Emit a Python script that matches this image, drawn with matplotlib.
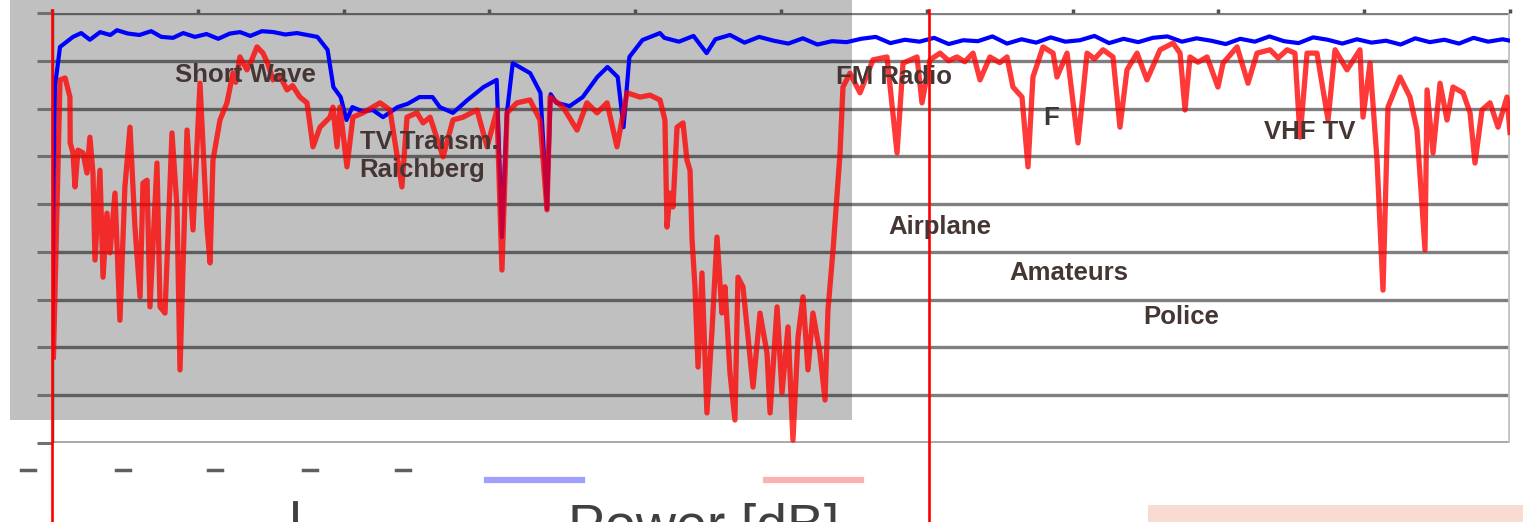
import matplotlib
matplotlib.use('Agg')
import matplotlib.pyplot as plt
from matplotlib.lines import Line2D
from matplotlib.patches import Rectangle

# x: position in sweep span (0..100 %), y: level in dB
blue_points = [
    (0.0, -72.0), (0.2, -15.5), (0.55, -7.1), (1.44, -5.0), (2.0, -4.2),
    (2.6, -5.6), (3.3, -4.0), (4.0, -4.6), (4.46, -3.6), (5.2, -4.3),
    (6.0, -4.6), (6.8, -3.8), (7.5, -5.0), (8.3, -5.2), (9.0, -4.2),
    (9.8, -5.0), (10.6, -4.4), (11.4, -5.4), (12.2, -4.3), (12.9, -4.0),
    (13.6, -4.8), (14.4, -3.8), (15.2, -4.0), (16.0, -4.5), (16.8, -4.2),
    (17.5, -4.6), (18.2, -5.0), (18.9, -7.7), (19.3, -15.5), (19.8, -17.6),
    (20.2, -22.4), (20.6, -19.7), (21.3, -20.6), (22.0, -20.3), (22.7, -21.8),
    (23.7, -19.7), (24.4, -19.0), (25.2, -17.6), (26.1, -17.6), (26.6, -19.7),
    (27.5, -20.9), (28.5, -18.2), (29.6, -15.5), (30.5, -14.0), (30.86, -46.9),
    (31.2, -20.9), (31.6, -10.5), (32.8, -12.6), (33.5, -16.7), (33.95, -41.0),
    (34.2, -17.0), (34.6, -18.8), (35.5, -19.5), (36.4, -17.6), (37.4, -13.4),
    (38.1, -11.3), (38.8, -13.4), (39.2, -23.9), (39.6, -9.2), (40.5, -5.65),
    (41.7, -4.2), (42.0, -5.2), (43.0, -6.0), (44.0, -4.8), (44.9, -8.4),
    (45.5, -5.5), (46.5, -4.6), (47.5, -6.2), (48.5, -5.0), (49.5, -5.8),
    (50.5, -6.4), (51.5, -5.3), (52.5, -6.6), (53.5, -5.9), (54.5, -6.1),
    (55.5, -5.4), (56.5, -5.0), (57.5, -6.3), (58.5, -5.6), (59.5, -6.0),
    (60.5, -5.2), (61.5, -6.5), (62.5, -5.7), (63.5, -5.9), (64.5, -4.9),
    (65.5, -6.4), (66.5, -5.5), (67.5, -6.2), (68.5, -5.1), (69.5, -6.0),
    (70.5, -5.7), (71.5, -4.8), (72.5, -6.3), (73.5, -5.4), (74.5, -6.1),
    (75.5, -5.2), (76.5, -4.9), (77.5, -6.0), (78.5, -5.3), (79.5, -5.8),
    (80.5, -6.5), (81.5, -5.4), (82.5, -6.0), (83.5, -4.9), (84.5, -5.9),
    (85.5, -6.3), (86.5, -5.1), (87.5, -5.6), (88.5, -6.4), (89.5, -5.5),
    (90.5, -6.2), (91.5, -5.8), (92.5, -6.6), (93.5, -5.3), (94.5, -6.1),
    (95.5, -5.6), (96.5, -6.4), (97.5, -5.2), (98.5, -6.0), (99.5, -5.5),
    (100.0, -5.8),
]

red_points = [
    (0.1, -72.0), (0.55, -14.0), (0.9, -13.6), (1.23, -17.6), (1.25, -27.2),
    (1.44, -29.3), (1.58, -36.4), (1.78, -28.7), (2.13, -29.3), (2.4, -33.5),
    (2.6, -26.0), (2.81, -33.5), (2.95, -51.7), (3.29, -32.9), (3.5, -55.3),
    (3.77, -41.9), (3.98, -50.2), (4.32, -37.7), (4.66, -64.3), (5.0, -36.4),
    (5.35, -23.9), (5.69, -44.8), (6.04, -59.4), (6.24, -35.6), (6.52, -35.0),
    (6.72, -61.5), (7.2, -31.4), (7.41, -61.5), (7.75, -62.8), (8.23, -25.1),
    (8.57, -40.6), (8.78, -74.7), (9.26, -24.5), (9.67, -45.4), (10.15, -14.7),
    (10.63, -44.8), (10.84, -52.3), (11.04, -30.8), (11.52, -22.4), (12.0, -18.8),
    (12.41, -12.6), (12.6, -14.5), (12.89, -9.2), (13.37, -11.9), (13.7, -9.8),
    (14.06, -7.1), (14.47, -8.4), (14.8, -10.6), (15.16, -14.0), (15.6, -13.0),
    (16.12, -16.1), (16.5, -15.2), (17.0, -17.6), (17.49, -18.8), (17.9, -28.0),
    (18.38, -23.9), (19.07, -21.8), (19.27, -19.7), (19.55, -28.0), (19.75, -19.7),
    (20.23, -32.2), (20.64, -21.8), (21.33, -20.9), (22.5, -18.8), (23.18, -20.3),
    (24.0, -36.4), (24.35, -21.8), (25.03, -20.9), (25.45, -23.0), (25.93, -21.8),
    (26.82, -30.1), (27.5, -22.4), (28.19, -21.8), (29.15, -20.3), (29.84, -28.0),
    (30.52, -20.3), (30.86, -53.8), (31.21, -20.9), (31.89, -18.8), (32.78, -18.2),
    (33.47, -22.4), (33.95, -41.2), (34.16, -17.6), (35.05, -19.7), (36.01, -24.5),
    (36.69, -18.8), (37.38, -20.9), (38.07, -18.8), (38.75, -28.0), (39.44, -16.7),
    (40.33, -17.6), (41.02, -17.2), (41.7, -18.2), (42.04, -22.4), (42.18, -44.8),
    (42.39, -37.7), (42.59, -40.6), (42.87, -23.9), (43.28, -23.0), (43.55, -30.8),
    (43.76, -32.9), (43.9, -47.5), (44.1, -57.3), (44.31, -74.1), (44.58, -54.4),
    (44.92, -83.7), (45.27, -66.3), (45.61, -46.9), (45.95, -62.8), (46.16, -57.3),
    (46.5, -75.3), (46.84, -85.2), (47.05, -55.3), (47.39, -57.3), (47.74, -67.8),
    (48.08, -78.3), (48.56, -62.8), (49.04, -71.2), (49.25, -83.7), (49.73, -61.5),
    (50.07, -79.5), (50.48, -65.7), (50.82, -89.4), (51.17, -67.8), (51.51, -59.4),
    (51.85, -74.7), (52.19, -62.8), (52.67, -71.2), (53.02, -81.0), (53.22, -62.2),
    (53.57, -49.6), (54.05, -29.3), (54.25, -15.5), (54.73, -12.6), (55.42, -16.7),
    (56.31, -9.8), (57.27, -9.2), (57.96, -29.3), (58.37, -10.5), (59.33, -9.2),
    (59.67, -18.8), (60.22, -9.8), (60.91, -8.4), (61.5, -10.0), (62.07, -9.2),
    (62.6, -10.2), (63.17, -8.4), (63.65, -14.0), (64.33, -9.2), (65.0, -10.4),
    (65.5, -9.2), (65.91, -15.5), (66.53, -17.6), (66.94, -32.2), (67.28, -13.4),
    (67.97, -7.1), (68.66, -8.4), (68.93, -13.4), (69.62, -8.4), (70.37, -27.2),
    (70.99, -8.4), (71.5, -9.6), (72.09, -7.7), (72.77, -9.2), (73.25, -23.9),
    (73.73, -11.9), (74.42, -8.4), (75.1, -14.0), (76.0, -7.7), (76.89, -6.3),
    (77.37, -8.4), (77.71, -20.3), (78.05, -9.2), (78.6, -10.3), (79.22, -9.2),
    (79.97, -15.5), (80.32, -10.5), (81.28, -7.1), (82.03, -14.7), (82.65, -8.4),
    (83.54, -7.7), (84.1, -9.4), (84.71, -7.7), (85.25, -8.4), (85.6, -26.0),
    (86.08, -8.4), (86.76, -8.4), (87.52, -22.4), (88.0, -7.7), (88.82, -11.9),
    (89.71, -7.7), (89.92, -21.8), (90.4, -10.5), (90.88, -30.8), (91.29, -58.0),
    (91.63, -19.7), (92.46, -13.4), (93.14, -17.6), (93.62, -24.5), (94.17, -49.6),
    (94.31, -16.1), (94.72, -29.3), (95.2, -14.7), (95.68, -22.4), (96.09, -15.5),
    (96.78, -16.7), (97.26, -20.9), (97.6, -31.4), (98.08, -20.3), (98.63, -18.8),
    (99.18, -23.9), (99.79, -17.6), (100.0, -25.0),
]

# band labels: text, x, dB
labels = ['Short Wave', 'TV Transm.\nRaichberg', 'FM Radio', 'Airplane',
          'Amateurs', 'Police', 'VHF TV', 'F']
label_x = [8.44, 21.1, 53.77, 57.34, 65.64, 74.83, 83.13, 67.97]
label_db = [-13.0, -29.9, -13.4, -44.8, -54.4, -63.6, -24.9, -22.0]

marker_x = [0.0, 60.15]          # the two red cursor lines
shade_x = (-2.88, 54.87)         # grey shaded span
shade_db = (-85.2, 2.7)

blue_x, blue_db = zip(*blue_points)
red_x, red_db = zip(*red_points)

fig = plt.figure(figsize=[15.23, 5.22], dpi=100)
fig.patch.set_facecolor('white')
ax = fig.add_axes([52 / 1523, 1 - 443 / 522, 1458 / 1523, 430 / 522])
ax.set_facecolor('none')
ax.set_xlim(0, 100)
ax.set_ylim(-90, 0)

ax.add_patch(Rectangle((shade_x[0], shade_db[0]), shade_x[1] - shade_x[0],
                       shade_db[1] - shade_db[0], facecolor='#c0c0c0',
                       edgecolor='none', clip_on=False, zorder=0))

for v in range(-80, 10, 10):
    ax.axhline(v, color='black', alpha=0.5, lw=2.4, zorder=1)
ax.axhline(-90, color='#a8a8a8', lw=2.8, zorder=1)
ax.axvline(100, color='#c4c4c4', lw=3.5, zorder=1)
ax.axvline(0, color='#505050', lw=2.5, zorder=1)

for s in ax.spines.values():
    s.set_visible(False)
ax.set_yticks(range(-90, 10, 10))
ax.set_yticklabels([])
ax.tick_params(axis='y', length=11, width=2.2, color='#707070', direction='out')
ax.set_xticks(range(0, 110, 10))
ax.set_xticklabels([])
ax.tick_params(axis='x', bottom=False, top=True, length=3, width=2.5,
               color='#505050', direction='out')

ax.plot(blue_x, blue_db, color='#0000ff', lw=3.0, zorder=3)
ax.plot(red_x, red_db, color='#ff0000', lw=3.8, alpha=0.78, zorder=4)

for xv in marker_x:
    ax.axvline(xv, ymin=-0.184, ymax=1.007, color='#ff0000', lw=1.9,
               clip_on=False, zorder=6)

for t, xv, yv in zip(labels, label_x, label_db):
    ax.text(xv, yv, t, ha='left', va='center', fontsize=18.5,
            fontweight='bold', family=['Liberation Sans', 'DejaVu Sans'],
            color='#3a3a3a' if t == 'F' else '#453634', zorder=7)

# cut-off bits of the lower axis labels and legend
for px in [28, 123, 215, 310, 403]:
    fig.add_artist(Line2D([(px - 7) / 1523, (px + 7) / 1523],
                          [1 - 470 / 522] * 2, color='#606060', lw=2.5))
fig.add_artist(Line2D([487 / 1523, 582 / 1523], [1 - 480 / 522] * 2,
                      color='#a0a0ff', lw=4.5))
fig.add_artist(Line2D([766 / 1523, 861 / 1523], [1 - 480 / 522] * 2,
                      color='#ffb0b0', lw=4.5))
fig.add_artist(Line2D([295 / 1523, 295 / 1523], [1 - 503 / 522, 1 - 522 / 522],
                      color='#404040', lw=3.5))
fig.text(704 / 1523, 1 - 543 / 522, 'Power [dB]', ha='center', va='baseline',
         fontsize=40, color='#404040', family=['Liberation Sans', 'DejaVu Sans'])
fig.add_artist(Rectangle((1148 / 1523, 0), 375 / 1523, 17 / 522,
                         facecolor='#f8dcd4', edgecolor='none'))

fig.savefig('out.png', dpi=100)
